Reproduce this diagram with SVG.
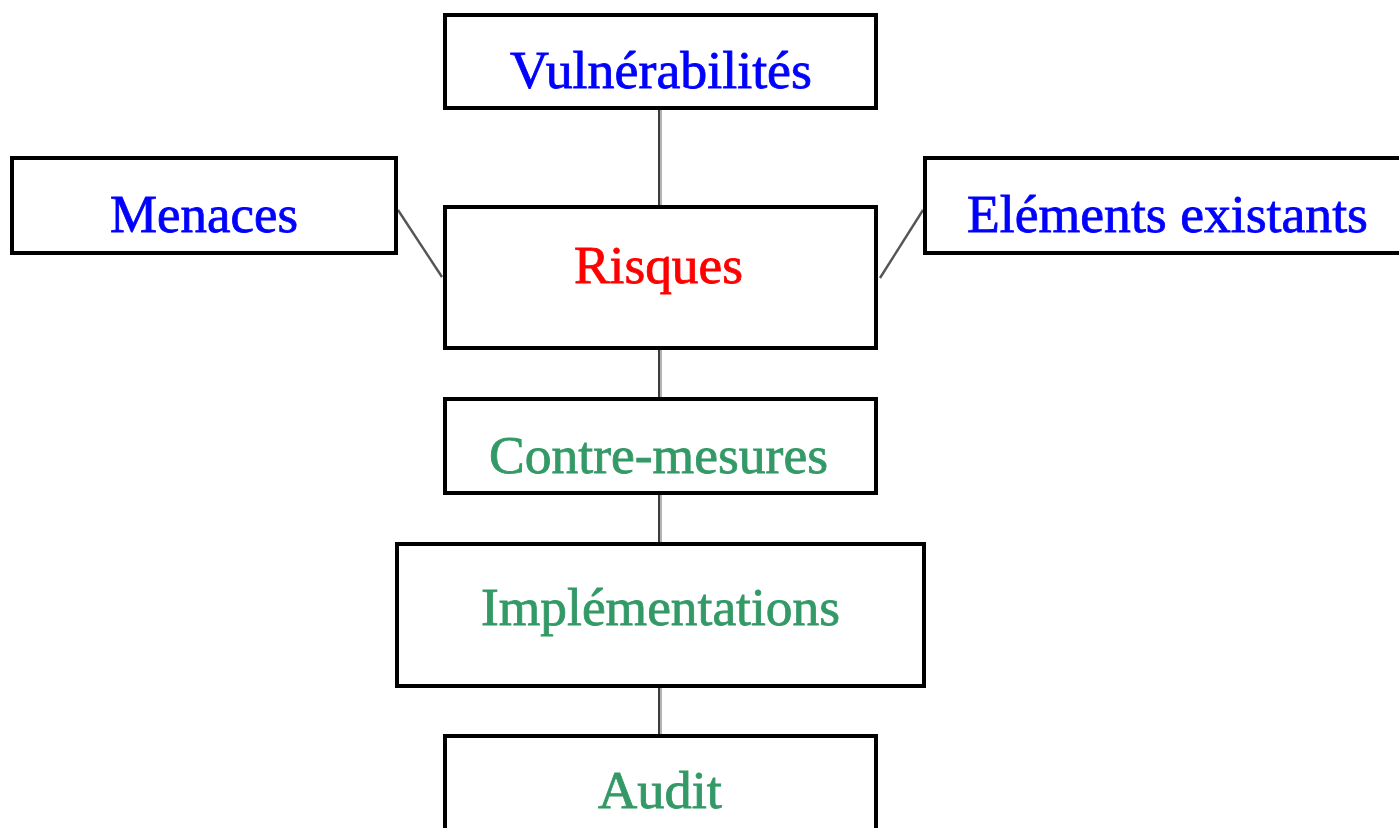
<svg xmlns="http://www.w3.org/2000/svg" width="1399" height="828" viewBox="0 0 1399 828">
<style>
.box{fill:#fff;stroke:#000;stroke-width:4}
.t{font-family:"Liberation Serif","DejaVu Serif",serif;font-size:52px;stroke-width:0.8}
.blue{fill:#0000ff;stroke:#0000ff}
.red{fill:#ff0000;stroke:#ff0000}
.green{fill:#339966;stroke:#339966}
.cd{stroke:#3c3c3c;stroke-width:2;fill:none}
.cl{stroke:#b4b4b4;stroke-width:2;fill:none}
.diag{stroke:#555;stroke-width:2.4;fill:none}
</style>
<rect width="1399" height="828" fill="#fff"/>
<g id="connectors">
<line class="cd" x1="659" y1="110" x2="659" y2="205"/><line class="cl" x1="661" y1="110" x2="661" y2="205"/>
<line class="cd" x1="659" y1="350" x2="659" y2="397"/><line class="cl" x1="661" y1="350" x2="661" y2="397"/>
<line class="cd" x1="659" y1="495" x2="659" y2="542"/><line class="cl" x1="661" y1="495" x2="661" y2="542"/>
<line class="cd" x1="659" y1="688" x2="659" y2="734"/><line class="cl" x1="661" y1="688" x2="661" y2="734"/>
<line class="diag" x1="398" y1="210" x2="442" y2="277"/>
<line class="diag" x1="880" y1="278" x2="923" y2="210"/>
</g>
<g id="vulnerabilites">
<rect class="box" x="445" y="15" width="431" height="93"/>
<text class="t blue" x="510" y="88" textLength="302" lengthAdjust="spacingAndGlyphs">Vulnérabilités</text>
</g>
<g id="menaces">
<rect class="box" x="12" y="158" width="384" height="95"/>
<text class="t blue" x="110" y="232" textLength="188" lengthAdjust="spacingAndGlyphs">Menaces</text>
</g>
<g id="elements">
<rect class="box" x="925" y="158" width="480" height="95"/>
<text class="t blue" x="967" y="232" textLength="401" lengthAdjust="spacingAndGlyphs">Eléments existants</text>
</g>
<g id="risques">
<rect class="box" x="445" y="207" width="431" height="141"/>
<text class="t red" x="574" y="283" textLength="169" lengthAdjust="spacingAndGlyphs">Risques</text>
</g>
<g id="contremesures">
<rect class="box" x="445" y="399" width="431" height="94"/>
<text class="t green" x="489" y="473" textLength="339" lengthAdjust="spacingAndGlyphs">Contre-mesures</text>
</g>
<g id="implementations">
<rect class="box" x="397" y="544" width="527" height="142"/>
<text class="t green" x="481" y="625" textLength="359" lengthAdjust="spacingAndGlyphs">Implémentations</text>
</g>
<g id="audit">
<rect class="box" x="445" y="736" width="431" height="100"/>
<text class="t green" x="598" y="808" textLength="124" lengthAdjust="spacingAndGlyphs">Audit</text>
</g>
</svg>
